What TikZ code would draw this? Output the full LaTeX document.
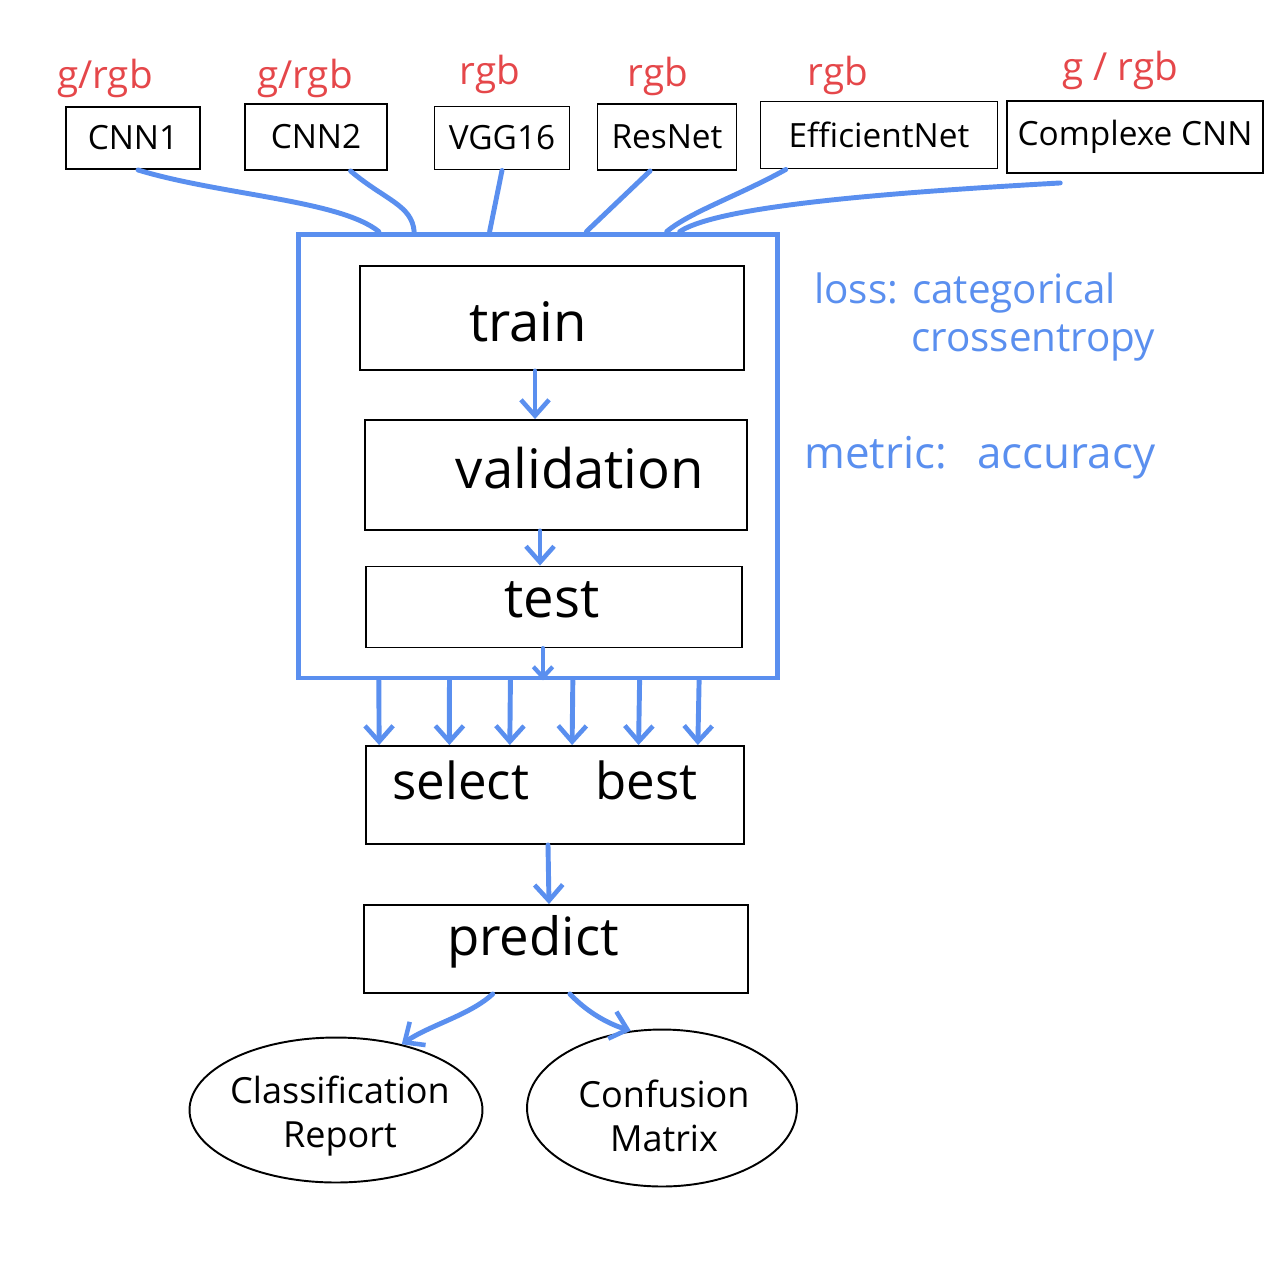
\documentclass[tikz,border=0pt]{standalone}
\usepackage{fontspec}
\setmainfont{Open Sans}
\usetikzlibrary{arrows.meta,calc,shapes.geometric}
\definecolor{pen}{HTML}{5A8FEF}
\definecolor{redpen}{HTML}{E5474A}
\tikzset{
  box/.style={draw=black, line width=1.1pt, rectangle, inner sep=0pt},
  modelbox/.style={box, font=\fontsize{19}{22}\selectfont},
  stagebox/.style={box},
  stagetext/.style={font=\fontsize{31}{34}\selectfont},
  outbox/.style={draw=black, line width=1.1pt, ellipse, inner sep=0pt},
  outtext/.style={align=center, font=\fontsize{20.5}{25}\selectfont},
  container/.style={draw=pen, line width=2.8pt, rectangle, inner sep=0pt},
  chan/.style={text=redpen, font=\fontsize{22}{24}\selectfont},
  note/.style={text=pen, font=\fontsize{23}{26}\selectfont, anchor=west},
  link/.style={draw=pen, line width=2.8pt, line cap=round},
  flow/.style={link, -{Straight Barb[length=9pt,width=16pt,line width=2.6pt]}},
  smallflow/.style={link, -{Straight Barb[length=6pt,width=11pt,line width=2.4pt]}},
}
\begin{document}
\begin{tikzpicture}[x=0.02cm, y=-0.02cm]
\useasboundingbox (0,0) rectangle (1288,1272);

% model boxes
\node[modelbox, minimum width=2.68cm, minimum height=1.24cm] (cnn1) at (133,138) {CNN1};
\node[modelbox, minimum width=2.84cm, minimum height=1.32cm] (cnn2) at (316,137) {CNN2};
\node[modelbox, minimum width=2.70cm, minimum height=1.26cm] (vgg) at (502,138) {VGG16};
\node[modelbox, minimum width=2.78cm, minimum height=1.32cm] (resnet) at (667,137) {ResNet};
\node[modelbox, minimum width=4.74cm, minimum height=1.34cm] (effnet) at (879,135) {EfficientNet};
\node[modelbox, minimum width=5.12cm, minimum height=1.44cm] (complexe) at (1135,137) {Complexe CNN};

% channel labels
\node[chan] (c1) at (105,78) {g/rgb};
\node[chan] (c2) at (305,78) {g/rgb};
\node[chan] (c3) at (490,74) {rgb};
\node[chan] (c4) at (658,76) {rgb};
\node[chan] (c5) at (838,75) {rgb};
\node[chan] (c6) at (1120,70) {g / rgb};

% container
\node[container, minimum width=9.58cm, minimum height=8.88cm] (cont) at (538,456) {};

% stages
\node[stagebox, minimum width=7.68cm, minimum height=2.08cm] (train) at (552,318) {};
\node[stagebox, minimum width=7.64cm, minimum height=2.20cm] (valid) at (556,475) {};
\node[stagebox, minimum width=7.52cm, minimum height=1.62cm] (test) at (554,607) {};
\node[stagebox, minimum width=7.56cm, minimum height=1.96cm] (select) at (555,795) {};
\node[stagebox, minimum width=7.68cm, minimum height=1.76cm] (predict) at (556,949) {};
\node[stagetext] (traint) at (528,322) {train};
\node[stagetext] (validt) at (580,468) {validation};
\node[stagetext] (testt) at (552,600) {test};
\node[stagetext, font=\fontsize{29}{34}\selectfont] (selectt) at (545,780) {select\hspace{1.3em}best};
\node[stagetext, font=\fontsize{30}{34}\selectfont] (predictt) at (533,942) {predict};

% outputs
\node[outbox, minimum width=5.86cm, minimum height=2.90cm] (report) at (336,1110) {};
\node[outbox, minimum width=5.40cm, minimum height=3.14cm] (matrix) at (662,1108) {};
\node[outtext] (reportt) at (340,1116) {Classification\\Report};
\node[outtext] (matrixt) at (664,1116) {Confusion\\Matrix};

% notes
\node[note] (loss1) at (808,293) {loss: categorical};
\node[note] (loss2) at (905,343) {crossentropy};
\node[note, font=\fontsize{25}{28}\selectfont] (metric) at (798,458) {metric:\hspace{0.7em}accuracy};

% anchor points on container top
\path (cont.north west) -- (cont.north east)
  coordinate[pos=0.171] (t1) coordinate[pos=0.244] (t2) coordinate[pos=0.400] (t3)
  coordinate[pos=0.600] (t4) coordinate[pos=0.766] (t5) coordinate[pos=0.793] (t6);
\path (effnet.south west) -- (effnet.south east) coordinate[pos=0.11] (e1);
\path (complexe.south west) -- (complexe.south east) coordinate[pos=0.21] (x1);
\path (cnn2.south west) -- (cnn2.south east) coordinate[pos=0.74] (n2);
\path (resnet.south west) -- (resnet.south east) coordinate[pos=0.38] (r1);

% model connectors
\draw[link] ([xshift=0.1cm]cnn1.south) .. controls (220,195) and (340,200) .. (t1);
\draw[link] (n2) .. controls (385,200) and (412,205) .. (t2);
\draw[link] (vgg.south) -- (t3);
\draw[link] (r1) -- (t4);
\draw[link] (e1) .. controls (740,195) and (690,212) .. (t5);
\draw[link] ([yshift=-0.18cm]x1) .. controls (900,192) and (720,205) .. (t6);

% stage arrows
\draw[flow] (train.south) ++(-0.34cm,0) coordinate (a1) -- (a1 |- valid.north);
\draw[flow] (valid.south) ++(-0.32cm,0) coordinate (a2) -- (a2 |- test.north);
\draw[smallflow] (test.south) ++(-0.22cm,0) coordinate (a3) -- (a3 |- cont.south);

% six arrows
\path (cont.south west) -- (cont.south east)
  coordinate[pos=0.171] (b1) coordinate[pos=0.317] (b2) coordinate[pos=0.443] (b3)
  coordinate[pos=0.572] (b4) coordinate[pos=0.710] (b5) coordinate[pos=0.833] (b6);
\path (select.north west) -- (select.north east)
  coordinate[pos=0.037] (s1) coordinate[pos=0.222] (s2) coordinate[pos=0.381] (s3)
  coordinate[pos=0.545] (s4) coordinate[pos=0.720] (s5) coordinate[pos=0.876] (s6);
\foreach \i in {1,...,6} \draw[flow] (b\i) -- (s\i);

% select -> predict
\draw[flow] ([xshift=-0.14cm]select.south) -- ([xshift=-0.14cm]predict.north);

% predict -> outputs
\path (predict.south west) -- (predict.south east) coordinate[pos=0.336] (p1) coordinate[pos=0.536] (p2);
\draw[flow] (p1) .. controls (470,1015) and (430,1025) .. (report.45);
\draw[flow] (p2) .. controls (590,1015) and (612,1025) .. (matrix.112);
\end{tikzpicture}
\end{document}
